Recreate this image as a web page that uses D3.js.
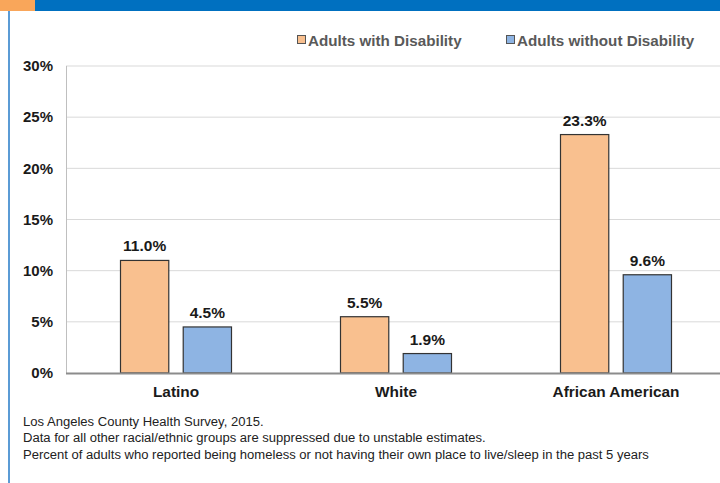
<!DOCTYPE html>
<html><head><meta charset="utf-8">
<script src="https://cdn.jsdelivr.net/npm/d3@7"></script>
<style>body{margin:0;background:#fff;}svg{display:block;font-family:"Liberation Sans",Arial,sans-serif;}</style>
</head><body><svg id="c" width="720" height="483"></svg>
<script>
const categories = ["Latino", "White", "African American"];
const seriesNames = ["Adults with Disability", "Adults without Disability"];
const withDisability = [11.0, 5.5, 23.3];
const withoutDisability = [4.5, 1.9, 9.6];
const yTicks = [0, 5, 10, 15, 20, 25, 30];
const notes = [
  "Los Angeles County Health Survey, 2015.",
  "Data for all other racial/ethnic groups are suppressed due to unstable estimates.",
  "Percent of adults who reported being homeless or not having their own place to live/sleep in the past 5 years"
];
const colors = ["#F9C08F", "#8EB4E3"];

const svg = d3.select("#c");
// header
svg.append("rect").attr("x",0).attr("y",0).attr("width",720).attr("height",11).attr("fill","#0070C0");
svg.append("rect").attr("x",0).attr("y",0).attr("width",35).attr("height",11).attr("fill","#F9A65A");
svg.append("rect").attr("x",8).attr("y",11).attr("width",2).attr("height",472).attr("fill","#5B9BD5");

const mLeft = 66, mTop = 66, mBottom = 373, mRight = 726;
const x0 = d3.scaleBand().domain(categories).range([mLeft, mRight]).padding(0);
const x1 = d3.scaleBand().domain(seriesNames).range([0, 112]).paddingInner(12/112*2).paddingOuter(0);
const y = d3.scaleLinear().domain([0, 30]).range([mBottom, mTop]);

// gridlines
svg.append("g").selectAll("line").data(yTicks.filter(d=>d>0)).join("line")
  .attr("x1", mLeft).attr("x2", 720).attr("y1", d=>y(d)).attr("y2", d=>y(d))
  .attr("stroke", "#d9d9d9").attr("stroke-width", 1);
// left axis line
svg.append("line").attr("x1", mLeft+0.5).attr("x2", mLeft+0.5).attr("y1", mTop).attr("y2", mBottom)
  .attr("stroke", "#bfbfbf").attr("stroke-width", 1);

// y axis labels
const yAxis = d3.axisLeft(y).tickValues(yTicks).tickSize(0).tickPadding(13).tickFormat(d=>d+"%");
const ga = svg.append("g").attr("transform", `translate(${mLeft},0)`).call(yAxis);
ga.select(".domain").remove();
ga.selectAll("text").attr("font-size", 15).attr("font-weight", "bold").attr("fill", "#1a1a1a")
  .attr("font-family", '"Liberation Sans",Arial,sans-serif');

const data = categories.map((c,i)=>({cat:c, vals:[withDisability[i], withoutDisability[i]]}));
const off = (x0.bandwidth() - 112) / 2;
const groups = svg.append("g").selectAll("g").data(data).join("g")
  .attr("transform", d=>`translate(${x0(d.cat)+off},0)`);
groups.selectAll("rect").data(d=>d.vals.map((v,j)=>({v, s:seriesNames[j], j}))).join("rect")
  .attr("x", d=>x1(d.s)+0.5).attr("width", x1.bandwidth()-1)
  .attr("y", d=>y(d.v)).attr("height", d=>mBottom - y(d.v))
  .attr("fill", d=>colors[d.j]).attr("stroke", "#333").attr("stroke-width", 1.2);
groups.selectAll("text").data(d=>d.vals.map((v,j)=>({v, s:seriesNames[j]}))).join("text")
  .attr("x", d=>x1(d.s)+x1.bandwidth()/2).attr("y", d=>y(d.v)-9)
  .attr("text-anchor", "middle").attr("font-size", 15.5).attr("font-weight", "bold").attr("fill", "#1a1a1a")
  .text(d=>d.v.toFixed(1)+"%");

// x axis line
svg.append("line").attr("x1", mLeft).attr("x2", 720).attr("y1", mBottom+0.5).attr("y2", mBottom+0.5)
  .attr("stroke", "#8c8c8c").attr("stroke-width", 2);
const xAxis = d3.axisBottom(x0).tickSize(0).tickPadding(13);
const gx = svg.append("g").attr("transform", `translate(0,${mBottom})`).call(xAxis);
gx.select(".domain").remove();
gx.selectAll("text").attr("font-size", 15.4).attr("font-weight", "bold").attr("fill", "#1a1a1a")
  .attr("font-family", '"Liberation Sans",Arial,sans-serif');

// legend
const legX = [297, 506];
seriesNames.forEach((s,i)=>{
  svg.append("rect").attr("x", legX[i]+0.5).attr("y", 35.5).attr("width", 8).attr("height", 8)
    .attr("fill", colors[i]).attr("stroke", "#555").attr("stroke-width", 1);
  svg.append("text").attr("x", legX[i]+11).attr("y", 46).attr("font-size", 15.2).attr("font-weight", "bold")
    .attr("fill", "#595959").text(s);
});

// notes
svg.append("g").selectAll("text").data(notes).join("text")
  .attr("x", 23).attr("y", (d,i)=>426 + i*16.3).attr("font-size", 13.05).attr("fill", "#222").text(d=>d);
</script></body></html>
